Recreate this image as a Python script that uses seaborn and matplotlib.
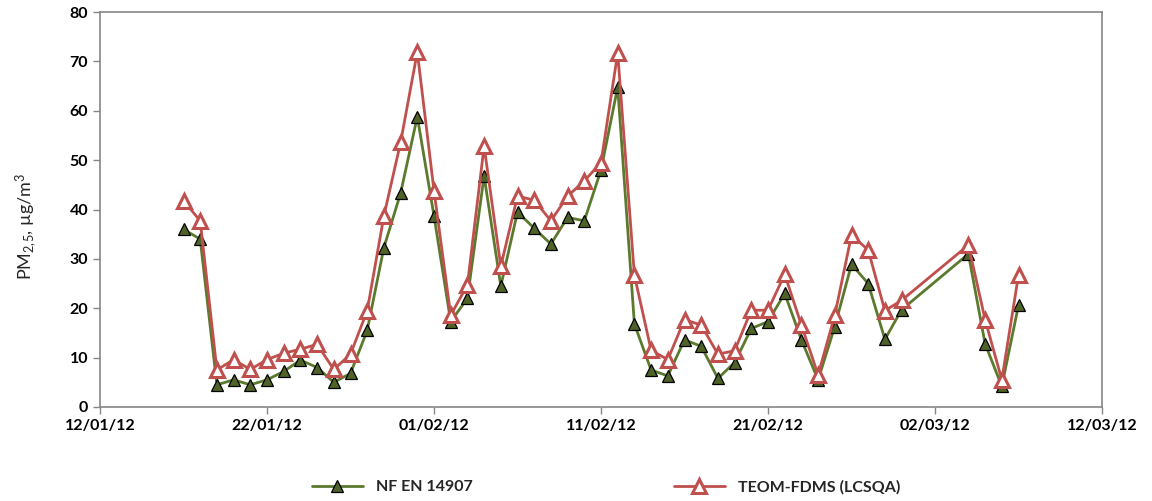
import matplotlib
matplotlib.use("Agg")
import matplotlib.pyplot as plt
import matplotlib.dates as mdates
import pandas as pd
import seaborn as sns

dates = [
    "2012-01-17", "2012-01-18", "2012-01-19", "2012-01-20", "2012-01-21",
    "2012-01-22", "2012-01-23", "2012-01-24", "2012-01-25", "2012-01-26",
    "2012-01-27", "2012-01-28", "2012-01-29", "2012-01-30", "2012-01-31",
    "2012-02-01", "2012-02-02", "2012-02-03", "2012-02-04", "2012-02-05",
    "2012-02-06", "2012-02-07", "2012-02-08", "2012-02-09", "2012-02-10",
    "2012-02-11", "2012-02-12", "2012-02-13", "2012-02-14", "2012-02-15",
    "2012-02-16", "2012-02-17", "2012-02-18", "2012-02-19", "2012-02-20",
    "2012-02-21", "2012-02-22", "2012-02-23", "2012-02-24", "2012-02-25",
    "2012-02-26", "2012-02-27", "2012-02-28", "2012-02-29",
    "2012-03-04", "2012-03-05", "2012-03-06", "2012-03-07",
]

nf_en_14907 = [
    36.0, 34.0, 4.5, 5.5, 4.5,
    5.5, 7.2, 9.5, 8.0, 5.0,
    6.8, 15.5, 32.3, 43.3, 58.8,
    38.7, 17.3, 22.0, 46.8, 24.5,
    39.5, 36.2, 33.0, 38.4, 37.7,
    48.0, 64.8, 16.8, 7.5, 6.3,
    13.6, 12.3, 5.8, 9.0, 15.9,
    17.3, 23.0, 13.6, 5.5, 16.3,
    28.9, 25.0, 13.7, 19.7,
    31.0, 12.8, 4.2, 20.6,
]

teom_fdms = [
    41.8, 37.7, 7.5, 9.6, 7.6,
    9.6, 10.9, 11.7, 12.7, 7.6,
    10.7, 19.5, 38.7, 53.6, 71.9,
    43.8, 18.6, 24.7, 52.8, 28.5,
    42.7, 41.9, 37.7, 42.7, 45.8,
    49.5, 71.7, 26.7, 11.5, 9.6,
    17.7, 16.6, 10.7, 11.4, 19.6,
    19.6, 26.9, 16.6, 6.5, 18.6,
    34.8, 31.8, 19.5, 21.6,
    32.8, 17.7, 5.5, 26.7,
]

series_names = ["NF EN 14907", "TEOM-FDMS (LCSQA)"]
y_ticks = [0, 10, 20, 30, 40, 50, 60, 70, 80]
x_ticks = ["2012-01-12", "2012-01-22", "2012-02-01", "2012-02-11",
           "2012-02-21", "2012-03-02", "2012-03-12"]

sns.set_theme(style="white")
plt.rcParams["font.family"] = ["Lato", "DejaVu Sans"]
plt.rcParams["mathtext.fontset"] = "custom"
plt.rcParams["mathtext.rm"] = "Lato"
plt.rcParams["mathtext.it"] = "Lato:italic"
plt.rcParams["mathtext.bf"] = "Lato:bold"

df = pd.DataFrame({
    "date": pd.to_datetime(dates),
    series_names[0]: nf_en_14907,
    series_names[1]: teom_fdms,
})

fig = plt.figure(figsize=(11.52, 5.01), dpi=100)
ax = fig.add_axes([100 / 1152, 1 - 407 / 501, 1002 / 1152, 395 / 501])

green_line = "#5B7A2E"
green_fill = "#4F6228"
red = "#C0504D"

sns.lineplot(data=df, x="date", y=series_names[0], ax=ax, color=green_line,
             linewidth=2.0, marker="^", markersize=9, markerfacecolor=green_fill,
             markeredgecolor="black", markeredgewidth=0.9,
             label=series_names[0])
sns.lineplot(data=df, x="date", y=series_names[1], ax=ax, color=red,
             linewidth=2.0, marker="^", markersize=9.5, markerfacecolor="white",
             markeredgecolor=red, markeredgewidth=2.2,
             label=series_names[1])

ax.set_xlim(pd.Timestamp(x_ticks[0]), pd.Timestamp(x_ticks[-1]))
ax.set_ylim(y_ticks[0], y_ticks[-1])
ax.set_yticks(y_ticks)
ax.set_xticks(pd.to_datetime(x_ticks))
ax.xaxis.set_major_formatter(mdates.DateFormatter("%d/%m/%y"))

for spine in ax.spines.values():
    spine.set_color("#868686")
    spine.set_linewidth(1.2)

ax.tick_params(axis="both", which="major", direction="out", length=5,
               width=1.0, color="#868686", labelsize=11.5, labelcolor="black",
               bottom=True, left=True)
for lbl in ax.get_xticklabels() + ax.get_yticklabels():
    lbl.set_fontweight("bold")

ax.set_xlabel("")
ax.set_ylabel(r"PM$_{\mathrm{2,\!5}}$, µg/m$^{\mathrm{3}}$", fontsize=13)
ax.yaxis.set_label_coords(-0.061, 0.458)

ax.get_legend().remove()
handles, labels = ax.get_legend_handles_labels()
leg = fig.legend(handles, labels, loc="center", bbox_to_anchor=(0.526, 0.028),
                 ncol=2, frameon=False, handlelength=3.2, columnspacing=12.6,
                 prop={"weight": "bold", "size": 11.5})

fig.savefig("out.png", dpi=100)
